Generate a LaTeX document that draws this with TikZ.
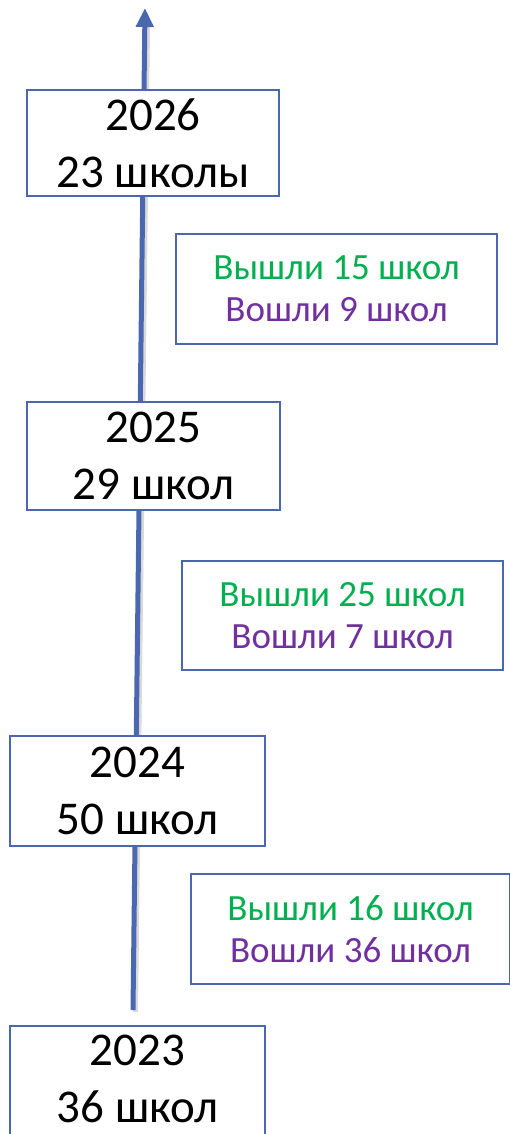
\documentclass[tikz,border=0pt]{standalone}
\usepackage{fontspec}
\setmainfont{Carlito}
\usetikzlibrary{arrows.meta}
\definecolor{boxblue}{HTML}{4A67B0}
\definecolor{arrowblue}{HTML}{4A67B0}
\definecolor{outgreen}{HTML}{00B050}
\definecolor{inpurple}{HTML}{7030A0}
\tikzset{
  yearbox/.style={draw=boxblue, line width=2pt, fill=white, inner sep=0pt,
    align=center, font=\fontsize{47}{57}\selectfont},
  flowbox/.style={draw=boxblue, line width=2pt, fill=white, inner sep=0pt,
    align=center, font=\fontsize{37}{42}\selectfont},
}
\begin{document}
\begin{tikzpicture}[x=1pt,y=-1pt]
\useasboundingbox (0,0) rectangle (510,1134);
\coordinate (abot) at (133,1010);
\coordinate (atop) at (145,8);
\coordinate (sbot) at (135.5,1012);
\coordinate (stop) at (147.5,26);
% shadow
\draw[black!15, line width=5pt] (sbot) -- (stop);
\draw[arrowblue, line width=5pt, -{Triangle[width=17pt,length=19pt]}] (abot) -- (atop);
% year boxes
\node[yearbox, minimum width=252pt, minimum height=106pt] (y2026) at (153,143) {2026\\23 школы};
\node[yearbox, minimum width=253pt, minimum height=108pt] (y2025) at (153.5,456) {2025\\29 школ};
\node[yearbox, minimum width=255pt, minimum height=110pt] (y2024) at (137.5,791) {2024\\50 школ};
\node[yearbox, minimum width=255pt, minimum height=120pt, anchor=north] (y2023) at (137.5,1025) {};
\node[font=\fontsize{47}{57}\selectfont, align=center] (t2023) at (137.5,1079) {2023\\36 школ};
% flow boxes
\node[flowbox, minimum width=321pt, minimum height=110pt] (f1) at (336.5,289)
  {\textcolor{outgreen}{Вышли 15 школ}\\\textcolor{inpurple}{Вошли 9 школ}};
\node[flowbox, minimum width=321pt, minimum height=109pt] (f2) at (342.5,615.5)
  {\textcolor{outgreen}{Вышли 25 школ}\\\textcolor{inpurple}{Вошли 7 школ}};
\node[flowbox, minimum width=319pt, minimum height=110pt] (f3) at (350.5,929)
  {\textcolor{outgreen}{Вышли 16 школ}\\\textcolor{inpurple}{Вошли 36 школ}};
\end{tikzpicture}
\end{document}
